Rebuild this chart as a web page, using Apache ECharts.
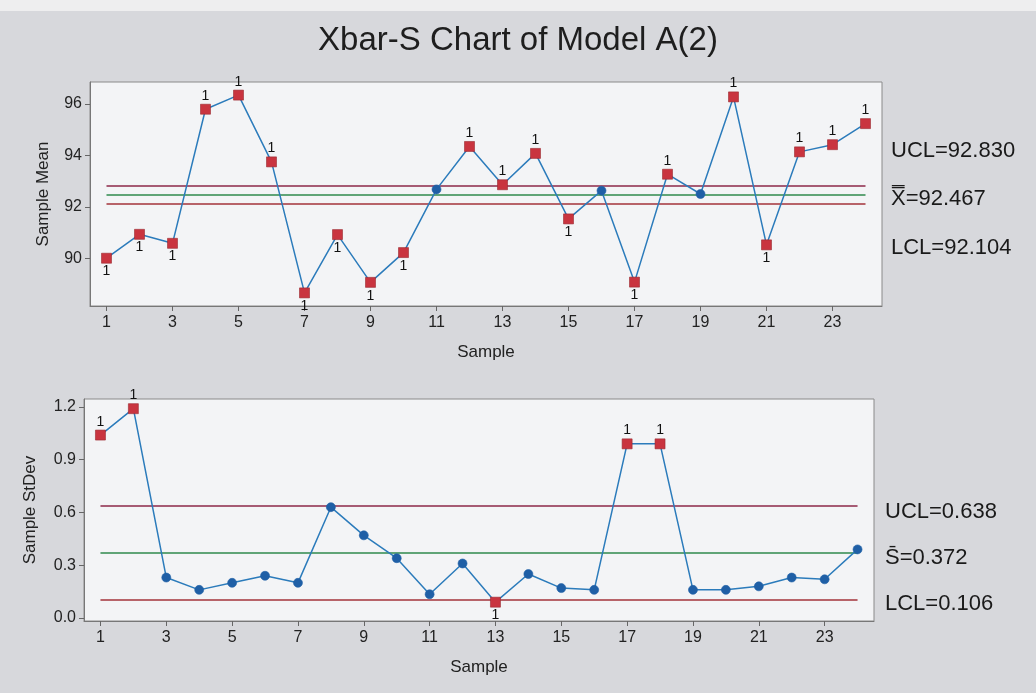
<!DOCTYPE html>
<html>
<head>
<meta charset="utf-8">
<script src="https://cdn.jsdelivr.net/npm/echarts@6/dist/echarts.min.js"></script>
<style>html,body{margin:0;padding:0;background:#d7d8dc;}#c{width:1036px;height:693px;}</style>
</head>
<body>
<div id="c"></div>
<script>
// ---- data ----
const samples = ['1','2','3','4','5','6','7','8','9','10','11','12','13','14','15','16','17','18','19','20','21','22','23','24'];
const meanValues = [90.00,90.93,90.58,95.80,96.35,93.75,88.65,90.92,89.06,90.22,92.68,94.35,92.86,94.08,91.53,92.63,89.07,93.27,92.50,96.28,90.52,94.14,94.42,95.24];
const meanFlags  = [1,1,1,1,1,1,1,1,1,1,0,1,1,1,1,0,1,1,0,1,1,1,1,1];
const sdValues   = [1.04,1.19,0.23,0.16,0.20,0.24,0.20,0.63,0.47,0.34,0.135,0.31,0.09,0.25,0.17,0.16,0.99,0.99,0.16,0.16,0.18,0.23,0.22,0.39];
const sdFlags    = [1,1,0,0,0,0,0,0,0,0,0,0,1,0,0,0,1,1,0,0,0,0,0,0];
const meanLimits = {ucl: 92.830, cl: 92.467, lcl: 92.104};
const sdLimits   = {ucl: 0.638, cl: 0.372, lcl: 0.106};
const meanTicks  = [90, 92, 94, 96];
const sdTicks    = [0.0, 0.3, 0.6, 0.9, 1.2];
const titleText  = 'Xbar-S Chart of Model A(2)';

// ---- styles ----
const LINE = '#2b7bbb', BLUE = '#1f5fa6', RED = '#c9343f';
const UCLC = '#8c2849', CLC = '#2f8a4c', LCLC = '#a3333a';
const FONT = 'Liberation Sans, Arial, sans-serif';

function points(vals, flags, cl) {
  return vals.map((v, i) => {
    const f = flags[i] === 1;
    return {
      value: v,
      symbol: f ? 'rect' : 'circle',
      symbolSize: f ? 10 : 9,
      itemStyle: { color: f ? RED : BLUE, borderColor: f ? '#9a2a30' : BLUE, borderWidth: 0.6 },
      label: { show: f, position: v >= cl ? 'top' : 'bottom', distance: 1 }
    };
  });
}
function limitLines(lim) {
  const mk = (y, c) => [{ coord: [samples[0], y], lineStyle: { color: c } }, { coord: [samples[samples.length - 1], y] }];
  return {
    silent: true, symbol: 'none', label: { show: false },
    lineStyle: { type: 'solid', width: 1.5 },
    data: [mk(lim.ucl, UCLC), mk(lim.cl, CLC), mk(lim.lcl, LCLC)]
  };
}
const grids = [
  { left: 90, top: 82, width: 792, height: 224 },
  { left: 84, top: 399, width: 790, height: 222 }
];
function xAx(gi) {
  return {
    type: 'category', gridIndex: gi, data: samples, boundaryGap: true,
    name: 'Sample', nameLocation: 'middle', nameGap: 38,
    nameTextStyle: { fontFamily: FONT, fontSize: 17, color: '#222' },
    axisLine: { show: true, onZero: false, lineStyle: { color: '#777', width: 1 } },
    axisTick: { show: true, interval: 1, alignWithLabel: true, length: 5, lineStyle: { color: '#666' } },
    axisLabel: { interval: 1, fontFamily: FONT, fontSize: 16, color: '#222', margin: 9 },
    splitLine: { show: false }
  };
}
function yAx(gi, min, max, ticks, name, gap, fmt) {
  return {
    type: 'value', gridIndex: gi, min: min, max: max,
    name: name, nameLocation: 'middle', nameGap: gap, nameRotate: 90,
    nameTextStyle: { fontFamily: FONT, fontSize: 17, color: '#222' },
    axisLine: { show: true, onZero: false, lineStyle: { color: '#777', width: 1 } },
    axisTick: { show: true, length: 5, customValues: ticks, lineStyle: { color: '#666' } },
    axisLabel: { customValues: ticks, fontFamily: FONT, fontSize: 16, color: '#222', margin: 8, formatter: fmt },
    splitLine: { show: false }
  };
}
function series(gi, vals, flags, lim) {
  return {
    type: 'line', xAxisIndex: gi, yAxisIndex: gi,
    data: points(vals, flags, lim.cl),
    lineStyle: { color: LINE, width: 1.5 },
    label: { fontFamily: FONT, fontSize: 14, color: '#111', formatter: () => '1' },
    z: 5,
    markLine: limitLines(lim)
  };
}
const chart = echarts.init(document.getElementById('c'), null, { renderer: 'canvas' });
chart.setOption({
  animation: false,
  backgroundColor: '#d7d8dc',
  title: { text: titleText, left: 'center', top: 19, textStyle: { fontFamily: FONT, fontSize: 33, fontWeight: 'normal', color: '#1e1e1e' } },
  grid: grids.map(g => Object.assign({ show: true, backgroundColor: '#f3f4f6', borderColor: '#8a8a8a', borderWidth: 1 }, g)),
  xAxis: [xAx(0), xAx(1)],
  yAxis: [
    yAx(0, 88.14, 96.86, meanTicks, 'Sample Mean', 38, v => String(v)),
    yAx(1, -0.017, 1.245, sdTicks, 'Sample StDev', 45, v => v.toFixed(1))
  ],
  series: [series(0, meanValues, meanFlags, meanLimits), series(1, sdValues, sdFlags, sdLimits)],
  graphic: [
    { type: 'rect', left: 0, top: 0, shape: { width: 1036, height: 11 }, style: { fill: '#eeeeef' }, z: -1 },
    { type: 'group', children: [
      { type: 'text', x: 891, y: 151, style: { text: 'UCL=' + meanLimits.ucl.toFixed(3), fontFamily: FONT, fontSize: 22, fill: '#1a1a1a', verticalAlign: 'middle' } },
      { type: 'text', x: 891, y: 199, style: { text: 'X\u033F=' + meanLimits.cl.toFixed(3), fontFamily: FONT, fontSize: 22, fill: '#1a1a1a', verticalAlign: 'middle' } },
      { type: 'text', x: 891, y: 248, style: { text: 'LCL=' + meanLimits.lcl.toFixed(3), fontFamily: FONT, fontSize: 22, fill: '#1a1a1a', verticalAlign: 'middle' } },
      { type: 'text', x: 885, y: 512, style: { text: 'UCL=' + sdLimits.ucl.toFixed(3), fontFamily: FONT, fontSize: 22, fill: '#1a1a1a', verticalAlign: 'middle' } },
      { type: 'text', x: 885, y: 558, style: { text: 'S\u0304=' + sdLimits.cl.toFixed(3), fontFamily: FONT, fontSize: 22, fill: '#1a1a1a', verticalAlign: 'middle' } },
      { type: 'text', x: 885, y: 604, style: { text: 'LCL=' + sdLimits.lcl.toFixed(3), fontFamily: FONT, fontSize: 22, fill: '#1a1a1a', verticalAlign: 'middle' } }
    ]}
  ]
});
</script>
</body>
</html>
